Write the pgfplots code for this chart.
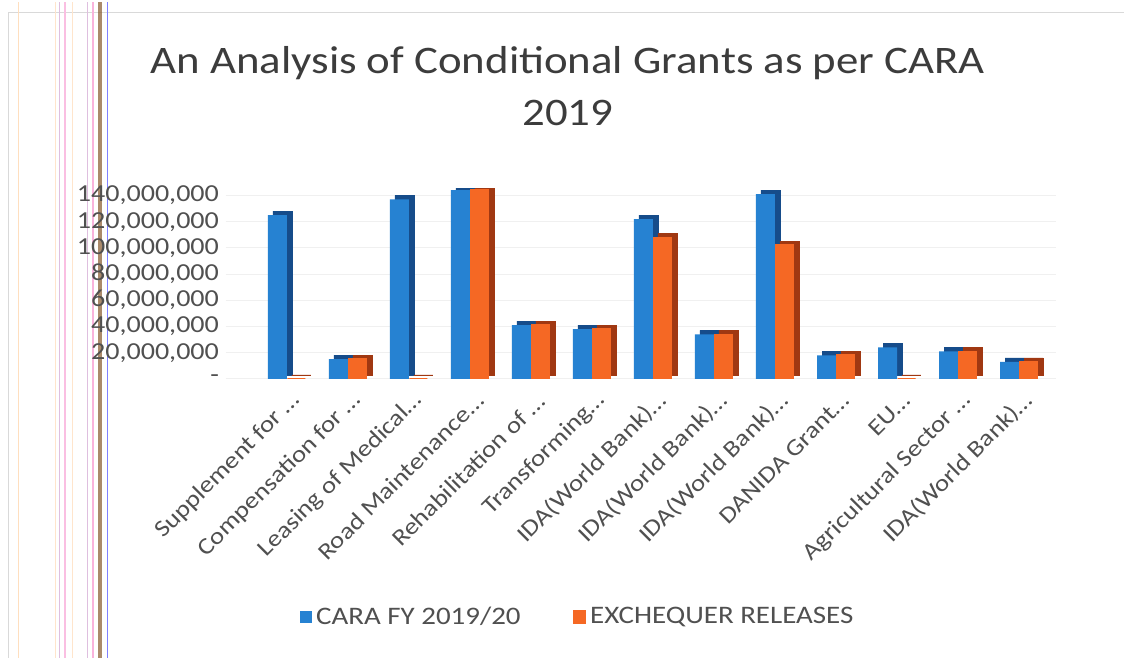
\documentclass[border=0pt]{standalone}
\usepackage{pgfplots}
\pgfplotsset{compat=1.18}
\usepackage{pgfplotstable}
\usepackage{fontspec}
\setmainfont{Carlito}[FakeStretch=1.15]
\definecolor{cblue}{RGB}{38,130,210}
\definecolor{cbluedk}{RGB}{22,76,138}
\definecolor{corange}{RGB}{245,104,36}
\definecolor{corangedk}{RGB}{160,56,18}
\definecolor{txt}{RGB}{80,80,80}
\definecolor{ttl}{RGB}{60,60,60}

\pgfplotstableread{
x cara exch
0 125000000 0
1 15000000 15000000
2 137000000 0
3 144000000 144000000
4 41000000 41000000
5 38000000 38000000
6 122000000 108000000
7 34000000 34000000
8 141000000 102000000
9 18000000 18000000
10 24000000 0
11 21000000 21000000
12 13000000 13000000
}\data

\begin{document}
\begin{tikzpicture}
\fill[white] (-113pt,-139.5pt) rectangle (449pt,188.5pt);
% scan artefacts on the left
\draw[gray!30, line width=0.4pt] (-109pt,-139.5pt) -- (-109pt,183.5pt) -- (449pt,183.5pt);
\draw[orange!25, line width=0.4pt] (-104pt,-139.5pt) -- (-104pt,188.5pt);
\draw[orange!20, line width=0.4pt] (-85.5pt,-139.5pt) -- (-85.5pt,188.5pt);
\draw[violet!25, line width=0.5pt] (-83pt,-139.5pt) -- (-83pt,188.5pt);
\draw[magenta!25, line width=0.6pt] (-80.5pt,-139.5pt) -- (-80.5pt,188.5pt);
\draw[orange!20, line width=0.4pt] (-77pt,-139.5pt) -- (-77pt,188.5pt);
\draw[violet!25, line width=0.5pt] (-69pt,-139.5pt) -- (-69pt,188.5pt);
\draw[magenta!30, line width=0.6pt] (-66.5pt,-139.5pt) -- (-66.5pt,188.5pt);
\draw[brown!70!black, opacity=0.7, line width=2pt] (-63pt,-139.5pt) -- (-63pt,188.5pt);
\draw[blue!50, line width=0.5pt] (-59pt,-139.5pt) -- (-59pt,188.5pt);
\begin{axis}[
  at={(0,0)}, anchor=south west,
  scale only axis, width=415pt, height=95pt,
  xmin=-1.0, xmax=12.6, ymin=0, ymax=145000000,
  axis line style={draw=none},
  major tick length=0pt,
  ymajorgrids, grid style={gray!12},
  scaled y ticks=false,
  ytick={0,20000000,40000000,60000000,80000000,100000000,120000000,140000000},
  yticklabels={{-\hspace{10pt}},{20,000,000},{40,000,000},{60,000,000},{80,000,000},{100,000,000},{120,000,000},{140,000,000}},
  yticklabel style={font=\fontsize{12.2}{13}\selectfont, text=txt},
  xtick={0,...,12},
  xticklabels={{Supplement for …},{Compensation for …},{Leasing of Medical…},{Road Maintenance…},{Rehabilitation of …},{Transforming…},{IDA(World Bank)…},{IDA(World Bank)…},{IDA(World Bank)…},{DANIDA Grant…},{EU…},{Agricultural Sector …},{IDA(World Bank)…}},
  xticklabel style={font=\fontsize{11.7}{12}\selectfont, text=txt, xshift=5pt, yshift=-9pt, rotate=45, anchor=east, inner sep=0pt},
  title={An Analysis of Conditional Grants as per CARA\\2019},
  title style={align=center, font=\fontsize{19.5}{26}\selectfont, text=ttl, at={(axis description cs:0.5,1)}, anchor=center, xshift=-36.5pt, yshift=45.5pt},
  legend style={at={(axis description cs:0.5,0)}, anchor=center, xshift=-31pt, yshift=-119pt, draw=none, fill=none, legend columns=2, font=\fontsize{12.6}{14}\selectfont, text=txt, /tikz/every even column/.append style={column sep=24pt}},
]
\addplot[ybar, bar width=9.5pt, bar shift=-4.75pt, fill=cbluedk, draw=cbluedk, line width=0.3pt, xshift=2.5pt, yshift=2pt, forget plot] table[x=x,y=cara]{\data};
\addplot[ybar, bar width=9.5pt, bar shift=-4.75pt, fill=cblue, draw=none, legend image code/.code={\fill[cblue] (0pt,-3pt) rectangle (6pt,3pt);}] table[x=x,y=cara]{\data};
\addplot[ybar, bar width=9.5pt, bar shift=4.75pt, fill=corangedk, draw=corangedk, line width=0.3pt, xshift=2.5pt, yshift=2pt, forget plot] table[x=x,y=exch]{\data};
\addplot[ybar, bar width=9pt, bar shift=4.75pt, fill=corange, draw=corange, line width=0.8pt, legend image code/.code={\fill[corange] (0pt,-3pt) rectangle (6pt,3pt);}] table[x=x,y=exch]{\data};
\legend{CARA FY 2019/20, EXCHEQUER RELEASES}
\end{axis}
\end{tikzpicture}
\end{document}
